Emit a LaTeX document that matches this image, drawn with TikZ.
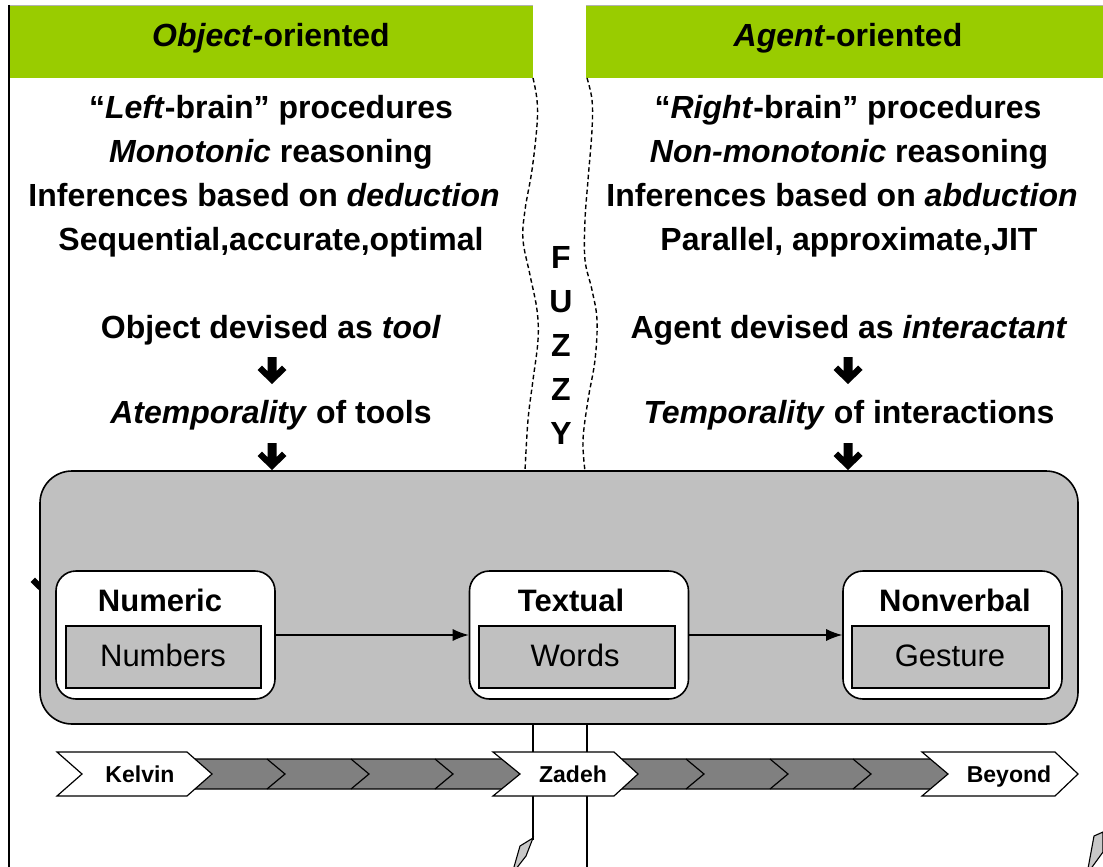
\documentclass[tikz,border=0pt]{standalone}
\usepackage{fontspec}
\setmainfont{Liberation Sans}
\usetikzlibrary{arrows.meta}
\definecolor{hdrgreen}{HTML}{99CC00}
\definecolor{boxgray}{HTML}{C0C0C0}
\definecolor{bargray}{HTML}{808080}
\definecolor{tipgray}{HTML}{C8C8C8}
\tikzset{
  bigtxt/.style={font=\fontsize{32}{38}\selectfont\bfseries, inner sep=0pt, anchor=base},
  boxtxt/.style={font=\fontsize{31}{36}\selectfont, inner sep=0pt, anchor=base},
  tltxt/.style={font=\fontsize{23}{27}\selectfont\bfseries, inner sep=0pt, anchor=base},
  header/.style={fill=hdrgreen, draw=none, inner sep=0pt, minimum height=73pt},
  whitebox/.style={draw=black, line width=1.6pt, fill=white, rounded corners=20pt, minimum width=219pt, minimum height=128pt, inner sep=0pt},
  innerbox/.style={draw=black, line width=1.2pt, fill=boxgray, minimum height=62pt, inner sep=0pt},
  chev/.style={draw=black, line width=1.2pt, fill=white},
  bar/.style={draw=black, line width=1.2pt, fill=bargray},
  fuzzyline/.style={dash pattern=on 4.5pt off 3pt, line width=1.4pt},
  flow/.style={line width=1.2pt, -{Latex[length=16pt,width=12pt]}},
  fatarrow/.pic={\fill[black] (-4.5,0) -- (4.5,0) -- (4.5,14) -- (10,8.5) -- (14.5,13) -- (0,27) -- (-14.5,13) -- (-10,8.5) -- (-4.5,14) -- cycle;}
}
\begin{document}
\begin{tikzpicture}[x=1pt,y=-1pt]
\useasboundingbox (0,0) rectangle (1103,867);
\fill[white] (0,0) rectangle (1103,867);

% headers
\node[header, minimum width=525pt] (hl) at (270.5,41.5) {};
\node[header, minimum width=517pt] (hr) at (844.5,41.5) {};
\draw[gray!60, line width=0.8pt] (8,5) -- (533,5);
\draw[gray!60, line width=0.8pt] (586,5) -- (1103,5);
\node[bigtxt] (tl) at (271,47) {\textit{Object}-oriented};
\node[bigtxt] (tr) at (848,47) {\textit{Agent}-oriented};

% left border
\draw[line width=1.6pt] (9,5) -- (9,867);

% left column
\node[bigtxt] (l1) at (271,118) {“\textit{Left}-brain” procedures};
\node[bigtxt] (l2) at (271,162) {\textit{Monotonic} reasoning};
\node[bigtxt] (l3) at (264,206) {Inferences based on \textit{deduction}};
\node[bigtxt] (l4) at (271,250) {Sequential,accurate,optimal};
\node[bigtxt] (l5) at (271,338) {Object devised as \textit{tool}};
\node[bigtxt] (l6) at (271,423) {\textit{Atemporality} of tools};
\pic at (272,357) {fatarrow};
\pic at (272,443) {fatarrow};

% right column
\node[bigtxt] (r1) at (848,118) {“\textit{Right}-brain” procedures};
\node[bigtxt] (r2) at (849,162) {\textit{Non-monotonic} reasoning};
\node[bigtxt] (r3) at (842,206) {Inferences based on \textit{abduction}};
\node[bigtxt] (r4) at (849,250) {Parallel, approximate,JIT};
\node[bigtxt] (r5) at (849,338) {Agent devised as \textit{interactant}};
\node[bigtxt] (r6) at (849,423) {\textit{Temporality} of interactions};
\pic at (848,357) {fatarrow};
\pic at (848,443) {fatarrow};

% fuzzy boundary
\draw[fuzzyline] plot[smooth, tension=0.6] coordinates {(533,78) (537,100) (537,125) (532,170) (525,210) (523,240) (530,275) (537,310) (538,340) (533,380) (528,420) (525,471)};
\draw[fuzzyline] plot[smooth, tension=0.6] coordinates {(587,78) (592,100) (592,130) (588,180) (585,220) (585,260) (592,290) (597,320) (595,360) (588,400) (583,440) (585,471)};
\node[bigtxt] (f1) at (561,268) {F};
\node[bigtxt] (f2) at (561,312) {U};
\node[bigtxt] (f3) at (561,356) {Z};
\node[bigtxt] (f4) at (561,400) {Z};
\node[bigtxt] (f5) at (561,444) {Y};

% partially hidden arrow at left edge
\pic at (45,569) {fatarrow};

% big gray container
\node[draw=black, line width=1.6pt, fill=boxgray, rounded corners=32pt, minimum width=1038pt, minimum height=253pt, inner sep=0pt] (big) at (559,597.5) {};

% white boxes
\node[whitebox] (numbox) at (165.5,635) {};
\node[whitebox] (textbox) at (579,635) {};
\node[whitebox] (nvbox) at (952.5,635) {};
\node[innerbox, minimum width=195pt] (numin) at (163.5,657) {};
\node[innerbox, minimum width=196pt] (texin) at (577,657) {};
\node[innerbox, minimum width=197pt] (nvin) at (950.5,657) {};
\node[bigtxt, font=\fontsize{31}{36}\selectfont\bfseries] (numt) at (160,611) {Numeric};
\node[bigtxt, font=\fontsize{31}{36}\selectfont\bfseries] (text) at (571,611) {Textual};
\node[bigtxt, font=\fontsize{31}{36}\selectfont\bfseries] (nvt) at (955,611) {Nonverbal};
\node[boxtxt] (numw) at (163,666) {Numbers};
\node[boxtxt] (texw) at (575,666) {Words};
\node[boxtxt] (nvw) at (950,666) {Gesture};
\draw[flow] (numbox.east) -- (textbox.west);
\draw[flow] (textbox.east) -- (nvbox.west);

% vertical lines below
\coordinate (vl1top) at (533,724);
\coordinate (vl1bot) at (533,840);
\coordinate (vl2top) at (587,724);
\coordinate (vl2bot) at (587,867);
\draw[line width=1.4pt] (vl1top) -- (vl1bot);
\draw[line width=1.4pt] (vl2top) -- (vl2bot);
\filldraw[fill=tipgray, draw=black, line width=1.1pt] (533,838) -- (520,846) -- (512,874) -- (526,856) -- cycle;
\filldraw[fill=tipgray, draw=black, line width=1.1pt] (1103,832) -- (1094,836) -- (1087,874) -- (1103,852) -- cycle;

% timeline bars
\filldraw[bar] (195,759) -- (503,759) -- (521,774) -- (503,789) -- (195,789) -- cycle;
\foreach \x in {267,351,435} \draw[line width=1.2pt] (\x,759) -- (\x+18,774) -- (\x,789);
\filldraw[bar] (615,759) -- (931,759) -- (949,774) -- (931,789) -- (615,789) -- cycle;
\foreach \x in {686,770,853} \draw[line width=1.2pt] (\x,759) -- (\x+18,774) -- (\x,789);

% timeline chevrons
\filldraw[chev] (57,752) -- (187,752) -- (212,774) -- (187,796) -- (57,796) -- (82,774) -- cycle;
\filldraw[chev] (493,752) -- (614,752) -- (638,774) -- (614,796) -- (493,796) -- (520,774) -- cycle;
\filldraw[chev] (922,752) -- (1055,752) -- (1078,774) -- (1055,796) -- (922,796) -- (948,774) -- cycle;
\node[tltxt] (kel) at (140,782) {Kelvin};
\node[tltxt] (zad) at (573,782) {Zadeh};
\node[tltxt] (bey) at (1009,782) {Beyond};
\end{tikzpicture}
\end{document}
